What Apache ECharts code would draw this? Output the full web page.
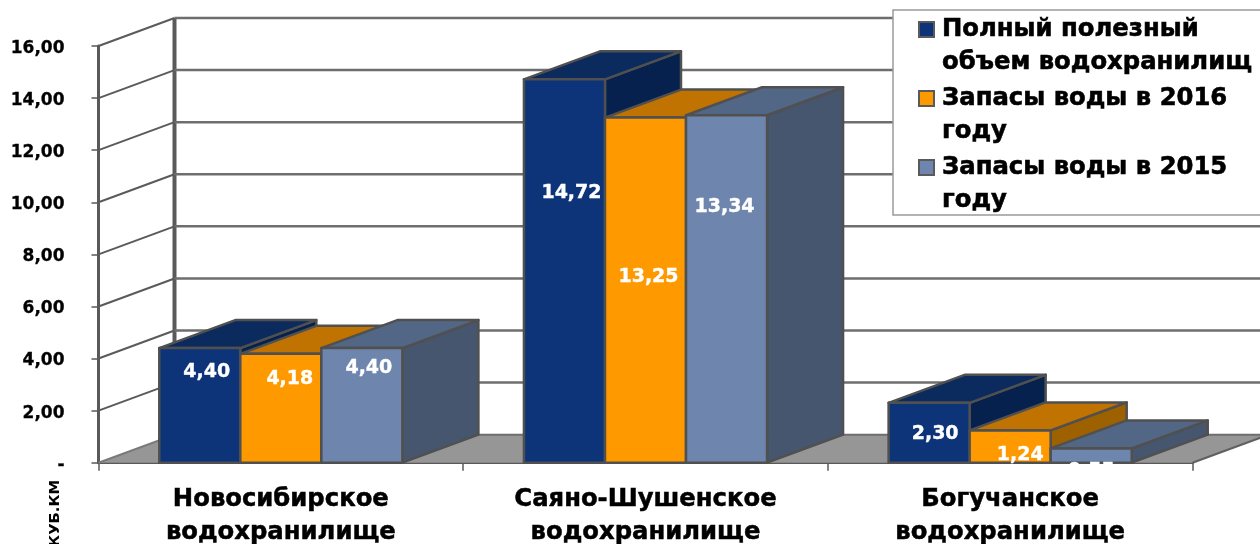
<!DOCTYPE html>
<html><head><meta charset="utf-8">
<style>html,body{margin:0;padding:0;background:#fff}#c{width:1260px;height:544px}</style>
<script src="https://cdn.jsdelivr.net/npm/echarts@6/dist/echarts.min.js"></script>
</head><body><div id="c"></div>
<script>
const categories = ['Новосибирское\nводохранилище','Саяно-Шушенское\nводохранилище','Богучанское\nводохранилище'];
const seriesNames = ['Полный полезный объем водохранилищ','Запасы воды в 2016 году','Запасы воды в 2015 году'];
const fullVolume = [4.40,14.72,2.30];
const stock2016 = [4.18,13.25,1.24];
const stock2015 = [4.40,13.34,0.55];
const yTicks = [0,2,4,6,8,10,12,14,16];

const FONT='"DejaVu Sans"';
const DX=76, DY=-28, EDGE='#505050';
const palettes=[
 {front:'#0D3378',top:'#0B2A5E',side:'#06214E'},
 {front:'#FF9900',top:'#C07300',side:'#9E6100'},
 {front:'#6E86AE',top:'#526785',side:'#46566F'}
];
// hand-placed data-label nudges in the reference, relative to bar centre / bar top
const labelNudge=[
 [[7,23.5],[7,113.5],[6,31.5]],
 [[9,25.5],[3,159.5],[10,24.5]],
 [[7,19.5],[-2,91.5],[0,22.5]]
];
const fmt=v=>v.toFixed(2).replace('.',',');

function poly(points,fill){
  return {type:'polygon',shape:{points},style:{fill,stroke:EDGE,lineWidth:2.5,lineJoin:'round'}};
}
function barRenderer(si){
  return function(params,api){
    const i=api.value(0), v=api.value(1);
    const band=api.size([1,0])[0], w=band/4.5;
    const c0=api.coord([i,0]), c1=api.coord([i,v]);
    const x0=c0[0]+(si-1.5)*w, x1=x0+w, yb=c0[1], yt=c1[1];
    const p=palettes[si], n=labelNudge[si][i];
    return {type:'group',children:[
      poly([[x1,yb],[x1+DX,yb+DY],[x1+DX,yt+DY],[x1,yt]],p.side),
      poly([[x0,yt],[x0+DX,yt+DY],[x1+DX,yt+DY],[x1,yt]],p.top),
      poly([[x0,yb],[x0,yt],[x1,yt],[x1,yb]],p.front),
      {type:'text',style:{text:fmt(v),x:(x0+x1)/2+n[0],y:yt+n[1],fill:'#fff',stroke:'#fff',lineWidth:0.4,
        font:'bold 19px '+FONT,align:'center',verticalAlign:'middle'}}
    ]};
  };
}
function wallRenderer(params,api){
  const o=api.coord([0,0]);
  const band=api.size([1,0])[0];
  const xl=o[0]-band/2, xr=xl+band*3;
  const yTop=api.coord([0,16])[1];
  const kids=[
    {type:'polygon',shape:{points:[[xl,o[1]],[xl+DX,o[1]+DY],[xr+DX,o[1]+DY],[xr,o[1]]]},style:{fill:'#969696'}},
    {type:'line',shape:{x1:xl,y1:o[1],x2:xl+DX,y2:o[1]+DY},style:{stroke:'#7a7a7a',lineWidth:2}},
    {type:'line',shape:{x1:xr,y1:o[1],x2:xr+DX,y2:o[1]+DY},style:{stroke:'#606060',lineWidth:2}},
    {type:'line',shape:{x1:xl+DX,y1:o[1]+DY,x2:xl+DX,y2:yTop+DY},style:{stroke:'#5a5a5a',lineWidth:4}}
  ];
  yTicks.forEach(t=>{
    const y=api.coord([0,t])[1];
    if(t>0){
      kids.push({type:'line',shape:{x1:xl,y1:y,x2:xl+DX,y2:y+DY},style:{stroke:'#5a5a5a',lineWidth:2}});
    }
    kids.push({type:'line',shape:{x1:xl+DX,y1:y+DY,x2:xr+DX,y2:y+DY},style:{stroke:'#6e6e6e',lineWidth:t>0?2.5:2}});
  });
  return {type:'group',children:kids};
}
const valueSets=[fullVolume,stock2016,stock2015];
const chart=echarts.init(document.getElementById('c'),null,{renderer:'canvas'});
chart.setOption({
  animation:false,
  backgroundColor:'#fff',
  grid:{left:98.5,right:67.5,top:46,bottom:81.3,containLabel:false,outerBoundsMode:'none'},
  xAxis:{type:'category',data:categories,
    axisLine:{lineStyle:{color:'#595959',width:3}},
    axisTick:{show:true,length:8,alignWithLabel:false,lineStyle:{color:'#595959',width:1.5}},
    axisLabel:{interval:0,margin:20,color:'#000',fontFamily:FONT,fontWeight:'bold',fontSize:24.3,lineHeight:33,verticalAlign:'top',
      textBorderColor:'#000',textBorderWidth:0.5},
    splitLine:{show:false}},
  yAxis:{type:'value',min:0,max:16,interval:2,
    name:'КУБ.КМ',nameLocation:'start',nameRotate:90,nameGap:17,
    nameTextStyle:{color:'#000',fontFamily:FONT,fontWeight:'bold',fontSize:14.8,verticalAlign:'bottom',padding:[0,0,36,0]},
    axisLine:{show:true,lineStyle:{color:'#595959',width:3}},
    axisTick:{show:true,length:7,lineStyle:{color:'#595959',width:1.5}},
    axisLabel:{margin:34,color:'#000',fontFamily:FONT,fontWeight:'bold',fontSize:17,verticalAlign:'top',padding:[-6,0,0,0],
      textBorderColor:'#000',textBorderWidth:0.3,
      formatter:v=>v===0?'-':fmt(v)},
    splitLine:{show:false}},
  legend:{show:true,orient:'vertical',left:918,top:-20,z:20,padding:0,
    data:seriesNames,icon:'rect',itemWidth:15,itemHeight:15,itemGap:-30,selectedMode:false,
    formatter:n=>n==='Полный полезный объем водохранилищ'?'\nПолный полезный\nобъем водохранилищ':'\n'+n.replace(' году','\nгоду'),
    textStyle:{color:'#000',fontFamily:FONT,fontWeight:'bold',fontSize:24.3,lineHeight:33,padding:[0,0,0,3],
      textBorderColor:'#000',textBorderWidth:0.6}},
  graphic:[{type:'rect',z:15,silent:true,shape:{x:893,y:10,width:400,height:205},
    style:{fill:'#fff',stroke:'#9a9a9a',lineWidth:1.5}}],
  series:[
    {type:'custom',name:'wall',silent:true,z:1,clip:false,renderItem:wallRenderer,data:[[0,0]],encode:{x:0,y:1}},
    ...seriesNames.map((name,si)=>({
      type:'custom',name,silent:true,z:3+si,clip:false,renderItem:barRenderer(si),
      itemStyle:{color:palettes[si].front,borderColor:'#5a5a5a',borderWidth:1},
      encode:{x:0,y:1},
      data:valueSets[si].map((v,i)=>[i,v])
    }))
  ]
});
</script></body></html>
